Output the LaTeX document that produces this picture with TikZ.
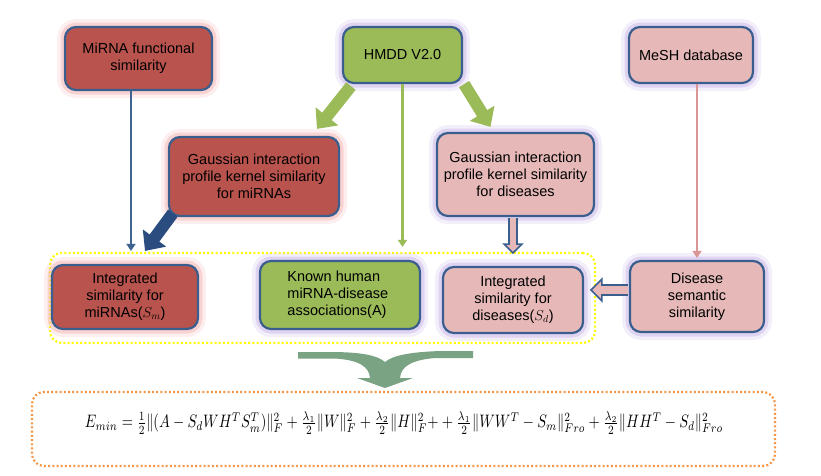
\documentclass[tikz,border=0pt]{standalone}
\usepackage{fontspec}
\setmainfont{Liberation Sans}
\usepackage{amsmath}
\usepackage{graphicx}
\usetikzlibrary{arrows.meta,calc}
\definecolor{redfill}{HTML}{B9534D}
\definecolor{greenfill}{HTML}{9BBB59}
\definecolor{pinkfill}{HTML}{E6B9B8}
\definecolor{bordc}{HTML}{3A5F8E}
\definecolor{pinkglow}{HTML}{F4B0AE}
\definecolor{purpglow}{HTML}{C4B0E6}
\definecolor{darkblue}{HTML}{2A4C7F}
\definecolor{thinblue}{HTML}{3F6391}
\definecolor{pinkline}{HTML}{D99694}
\definecolor{mergegreen}{HTML}{7AA383}
\definecolor{orangedot}{HTML}{F79646}
\definecolor{yellowdot}{HTML}{FFFF00}
\tikzset{
  box/.style={rounded corners=11pt, draw=bordc, line width=2.2pt, align=center,
    inner sep=0pt, font=\fontsize{14.5}{17}\selectfont},
  pglow/.style={preaction={draw=pinkglow, line width=16pt, opacity=0.2},
    preaction={draw=pinkglow, line width=9pt, opacity=0.45}},
  vglow/.style={preaction={draw=purpglow, line width=16pt, opacity=0.2},
    preaction={draw=purpglow, line width=9pt, opacity=0.45}},
  redbox/.style={box, pglow, fill=redfill},
  greenbox/.style={box, vglow, fill=greenfill},
  pinkbox/.style={box, vglow, fill=pinkfill},
  thickarrow/.style={line width=12pt, -{Triangle[width=28pt,length=16pt]}},
  thinarrow/.style={line width=2.6pt, -{Triangle[width=9pt,length=7pt]}},
  hollow/.style={draw=bordc, fill=pinkfill, line width=1.6pt, line join=miter},
  dotbox/.style={rounded corners=12pt, line width=2.2pt, dash pattern=on 2pt off 2.2pt},
}
\begin{document}
\begin{tikzpicture}[x=1pt,y=-1pt]
\useasboundingbox (0,0) rectangle (821,475);
% group boxes
\node[dotbox, draw=yellowdot, minimum width=545pt, minimum height=90pt] (grp) at (322.5,298) {};
\node[dotbox, draw=orangedot, minimum width=743pt, minimum height=74pt] (eqbox) at (403.5,429) {};
% top row
\node[redbox, minimum width=147pt, minimum height=63pt] (mfs) at (138.5,58.5) {MiRNA functional\\similarity};
\node[greenbox, minimum width=119pt, minimum height=56pt] (hmdd) at (402.5,55) {HMDD V2.0};
\node[pinkbox, minimum width=124pt, minimum height=56pt] (mesh) at (691,55) {MeSH database};
% middle row
\node[redbox, minimum width=170pt, minimum height=79pt] (gm) at (254,176.5) {Gaussian interaction\\profile kernel similarity\\for miRNAs};
\node[pinkbox, minimum width=157pt, minimum height=83pt] (gd) at (515.5,174.5) {Gaussian interaction\\profile kernel similarity\\for diseases};
% bottom row
\node[redbox, minimum width=146pt, minimum height=64pt] (ism) at (125,297) {Integrated\\similarity for\\miRNAs($S_m$)};
\node[greenbox, minimum width=160pt, minimum height=68pt, align=left] (known) at (340,295) {Known human\\miRNA-disease\\associations(A)\hspace*{6pt}};
\node[pinkbox, minimum width=140pt, minimum height=66pt] (isd) at (513,300) {Integrated\\similarity for\\diseases($S_d$)};
\node[pinkbox, minimum width=134pt, minimum height=71pt] (dss) at (697,296.5) {Disease\\semantic\\similarity};
% formula
\node (eq) at (404,423) {\scalebox{1}[1.25]{\resizebox{638pt}{!}{$E_{min}=\frac{1}{2}\|(A-S_dWH^TS_m^T)\|_F^2+\frac{\lambda_1}{2}\|W\|_F^2+\frac{\lambda_2}{2}\|H\|_F^2{+}+\frac{\lambda_1}{2}\|WW^T-S_m\|_{Fro}^2+\frac{\lambda_2}{2}\|HH^T-S_d\|_{Fro}^2$}}};
% connectors
\draw[thinarrow, draw=thinblue, fill=thinblue] ($(mfs.south)+(-7.5,0)$) -- ($(mfs.south |- grp.north)+(-7.5,-1)$);
\draw[thinarrow, draw=greenfill, fill=greenfill] (hmdd.south) -- ($(hmdd.south |- grp.north)+(0,-5)$);
\draw[thinarrow, draw=pinkline, fill=pinkline] (mesh.south -| dss.north) -- ($(dss.north)+(0,-2)$);
\draw[thickarrow, draw=darkblue, fill=darkblue] ($(gm.south west)+(5,-4)$) -- ($(ism.north)+(20,-13)$);
\draw[thickarrow, draw=greenfill, fill=greenfill] ($(hmdd.south west)+(9,2)$) -- ($(gm.north)+(63,-7)$);
\draw[thickarrow, draw=greenfill, fill=greenfill] ($(hmdd.south east)+(1,0)$) -- ($(gd.north)+(-25,-5)$);
% hollow arrows
\coordinate (c1) at ($(gd.south)+(-2.5,1)$);
\draw[hollow] ($(c1)+(-4,0)$) -- ($(c1)+(-4,26)$) -- ($(c1)+(-9,26)$) -- ($(c1)+(0,35)$)
  -- ($(c1)+(9,26)$) -- ($(c1)+(4,26)$) -- ($(c1)+(4,0)$);
\coordinate (c2) at ($(dss.west)+(-1,-6.5)$);
\draw[hollow] ($(c2)+(0,-5)$) -- ($(c2)+(-26,-5)$) -- ($(c2)+(-26,-11)$) -- ($(c2)+(-37,0)$)
  -- ($(c2)+(-26,11)$) -- ($(c2)+(-26,5)$) -- ($(c2)+(0,5)$);
% merging arrow
\fill[mergegreen] (298,352) -- (298,358.5) -- (335,358.5) .. controls (358,360) and (369,366) .. (370,378)
  -- (357,378) -- (385,388) -- (413,378) -- (400,378) .. controls (401,366) and (412,360) .. (435,358)
  -- (473,358) -- (473,351) -- (440,351) .. controls (412,352) and (393,355) .. (385,362)
  .. controls (377,355) and (360,352) .. (330,352) -- cycle;
\end{tikzpicture}
\end{document}
